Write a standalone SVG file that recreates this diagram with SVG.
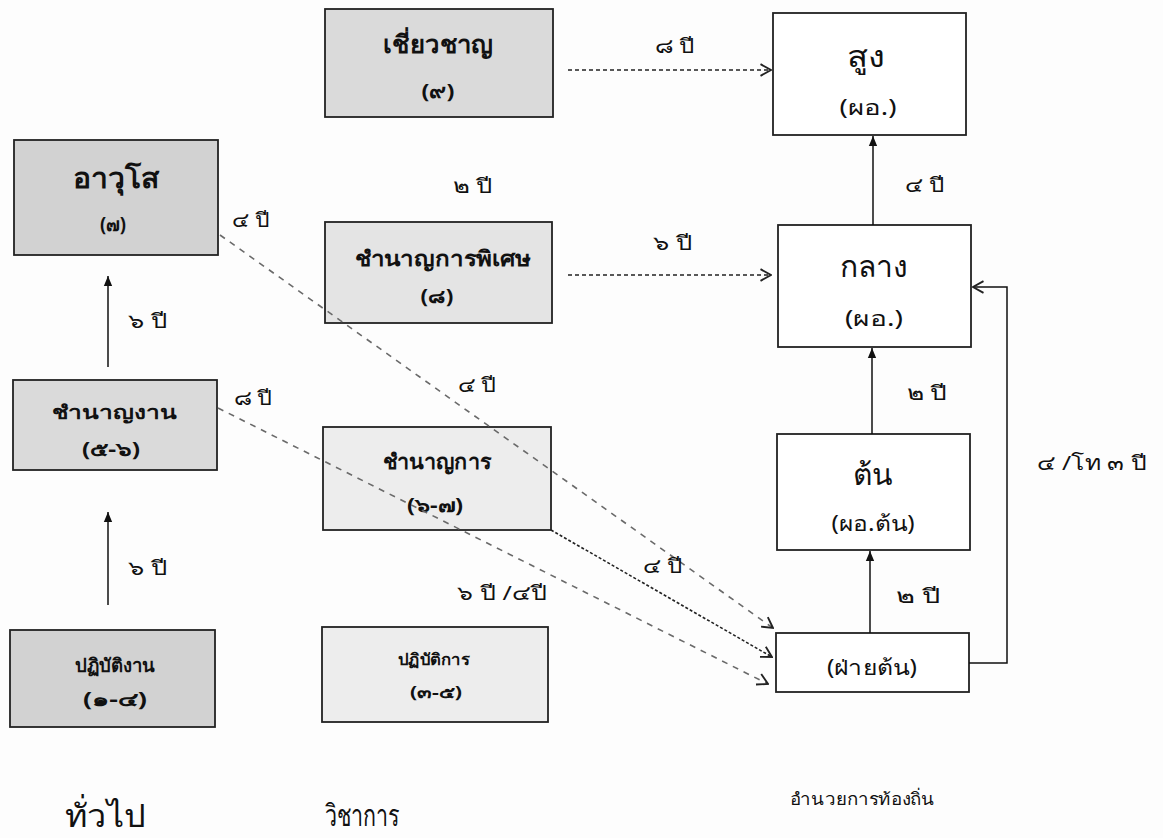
<svg xmlns="http://www.w3.org/2000/svg" width="1163" height="838" viewBox="0 0 1163 838">
<defs>
<style>
.box{stroke:#222;stroke-width:1.8}
.g1{fill:#d2d2d2}.g2{fill:#dadada}.g3{fill:#e4e4e4}.g4{fill:#ededed}.w{fill:#ffffff}
text{font-family:"Noto Sans","DejaVu Sans",sans-serif;fill:#111;text-anchor:middle}
.b{font-weight:bold}
.lbl{font-size:20px}
.solid{stroke:#111;stroke-width:1.5;fill:none}
.hd{stroke:#222;stroke-width:1.4;stroke-dasharray:4 3;fill:none}
.gd{stroke:#6a6a6a;stroke-width:1.6;stroke-dasharray:6 6;fill:none}
.bd{stroke:#222;stroke-width:1.6;stroke-dasharray:3 2;fill:none}
</style>
<marker id="fa" markerUnits="userSpaceOnUse" markerWidth="10" markerHeight="14" refX="12" refY="5" orient="auto" viewBox="0 0 12 10"><path d="M0,0 L12,5 L0,10 z" fill="#111"/></marker>
<marker id="oa" markerUnits="userSpaceOnUse" markerWidth="14" markerHeight="14" refX="11" refY="6" orient="auto" viewBox="0 0 12 12"><path d="M2,1 L11,6 L2,11" fill="none" stroke="#222" stroke-width="1.6"/></marker>
</defs>
<rect width="1163" height="838" fill="#fdfdfd"/>
<g id="n-awuso"><rect class="box g1" x="14" y="140" width="204" height="115"/><text x="116" y="188" font-size="28" class="b" textLength="87" lengthAdjust="spacingAndGlyphs">อาวุโส</text><text x="113" y="231" font-size="19" class="b" textLength="26" lengthAdjust="spacingAndGlyphs">(๗)</text></g>
<g id="n-chamnanngan"><rect class="box g2" x="13" y="380" width="204" height="90"/><text x="114" y="419" font-size="19" class="b" textLength="125" lengthAdjust="spacingAndGlyphs">ชำนาญงาน</text><text x="111" y="456" font-size="19" class="b" textLength="58" lengthAdjust="spacingAndGlyphs">(๕-๖)</text></g>
<g id="n-patibatingan"><rect class="box g1" x="10" y="630" width="205" height="97"/><text x="115" y="672" font-size="19" class="b" textLength="80" lengthAdjust="spacingAndGlyphs">ปฏิบัติงาน</text><text x="115" y="706" font-size="19" class="b" textLength="64" lengthAdjust="spacingAndGlyphs">(๑-๔)</text></g>
<g id="n-chiaochan"><rect class="box g2" x="325" y="9" width="228" height="108"/><text x="438" y="53" font-size="25" class="b" textLength="110" lengthAdjust="spacingAndGlyphs">เชี่ยวชาญ</text><text x="438" y="98" font-size="19" class="b" textLength="33" lengthAdjust="spacingAndGlyphs">(๙)</text></g>
<g id="n-chamnankanphiset"><rect class="box g3" x="325" y="222" width="227" height="101"/><text x="443" y="266" font-size="21" class="b" textLength="177" lengthAdjust="spacingAndGlyphs">ชำนาญการพิเศษ</text><text x="437" y="303" font-size="19" class="b" textLength="33" lengthAdjust="spacingAndGlyphs">(๘)</text></g>
<g id="n-chamnankan"><rect class="box g4" x="323" y="427" width="228" height="103"/><text x="437" y="469" font-size="21" class="b" textLength="109" lengthAdjust="spacingAndGlyphs">ชำนาญการ</text><text x="435" y="512" font-size="19" class="b" textLength="56" lengthAdjust="spacingAndGlyphs">(๖-๗)</text></g>
<g id="n-patibatikan"><rect class="box g4" x="322" y="627" width="226" height="95"/><text x="434" y="665" font-size="16" class="b" textLength="72" lengthAdjust="spacingAndGlyphs">ปฏิบัติการ</text><text x="436" y="698" font-size="16" class="b" textLength="52" lengthAdjust="spacingAndGlyphs">(๓-๕)</text></g>
<g id="n-sung"><rect class="box w" x="773" y="13" width="193" height="122"/><text x="866" y="67" font-size="30" textLength="38" lengthAdjust="spacingAndGlyphs">สูง</text><text x="868" y="115" font-size="21" textLength="57" lengthAdjust="spacingAndGlyphs">(ผอ.)</text></g>
<g id="n-klang"><rect class="box w" x="778" y="225" width="193" height="122"/><text x="874" y="277" font-size="30" textLength="68" lengthAdjust="spacingAndGlyphs">กลาง</text><text x="874" y="326" font-size="21" textLength="58" lengthAdjust="spacingAndGlyphs">(ผอ.)</text></g>
<g id="n-ton"><rect class="box w" x="777" y="434" width="193" height="116"/><text x="873" y="485" font-size="30" textLength="40" lengthAdjust="spacingAndGlyphs">ต้น</text><text x="873" y="531" font-size="21" textLength="83" lengthAdjust="spacingAndGlyphs">(ผอ.ต้น)</text></g>
<g id="n-faiton"><rect class="box w" x="776" y="633" width="193" height="59"/><text x="872" y="675" font-size="21" textLength="90" lengthAdjust="spacingAndGlyphs">(ฝ่ายต้น)</text></g>
<g id="connectors">
<line class="solid" x1="108" y1="367" x2="108" y2="276" marker-end="url(#fa)"/>
<line class="solid" x1="108" y1="605" x2="108" y2="512" marker-end="url(#fa)"/>
<line class="solid" x1="873" y1="225" x2="873" y2="136" marker-end="url(#fa)"/>
<line class="solid" x1="872" y1="434" x2="872" y2="348" marker-end="url(#fa)"/>
<line class="solid" x1="870" y1="633" x2="870" y2="551" marker-end="url(#fa)"/>
<polyline class="solid" points="969,663 1007,663 1007,287 973,287" marker-end="url(#oa)"/>
<line class="hd" x1="568" y1="70" x2="771" y2="70" marker-end="url(#oa)"/>
<line class="hd" x1="568" y1="275" x2="771" y2="275" marker-end="url(#oa)"/>
<line class="gd" x1="220" y1="235" x2="773" y2="628" marker-end="url(#oa)"/>
<line class="gd" x1="218" y1="408" x2="768" y2="684" marker-end="url(#oa)"/>
<line class="bd" x1="551" y1="530" x2="772" y2="657" marker-end="url(#oa)"/>
</g>
<g id="labels">
<text class="lbl" x="148" y="328" textLength="40" lengthAdjust="spacingAndGlyphs">๖ ปี</text>
<text class="lbl" x="148" y="575" textLength="40" lengthAdjust="spacingAndGlyphs">๖ ปี</text>
<text class="lbl" x="251" y="227" textLength="38" lengthAdjust="spacingAndGlyphs">๔ ปี</text>
<text class="lbl" x="253" y="405" textLength="39" lengthAdjust="spacingAndGlyphs">๘ ปี</text>
<text class="lbl" x="473" y="193" textLength="40" lengthAdjust="spacingAndGlyphs">๒ ปี</text>
<text class="lbl" x="477" y="392" textLength="39" lengthAdjust="spacingAndGlyphs">๔ ปี</text>
<text class="lbl" x="502" y="600" textLength="90" lengthAdjust="spacingAndGlyphs">๖ ปี /๔ปี</text>
<text class="lbl" x="663" y="573" textLength="40" lengthAdjust="spacingAndGlyphs">๔ ปี</text>
<text class="lbl" x="675" y="53" textLength="40" lengthAdjust="spacingAndGlyphs">๘ ปี</text>
<text class="lbl" x="673" y="250" textLength="40" lengthAdjust="spacingAndGlyphs">๖ ปี</text>
<text class="lbl" x="925" y="192" textLength="40" lengthAdjust="spacingAndGlyphs">๔ ปี</text>
<text class="lbl" x="927" y="400" textLength="41" lengthAdjust="spacingAndGlyphs">๒ ปี</text>
<text class="lbl" x="918" y="603" textLength="45" lengthAdjust="spacingAndGlyphs">๒ ปี</text>
<text class="lbl" x="1092" y="470" textLength="110" lengthAdjust="spacingAndGlyphs">๔ /โท ๓ ปี</text>
<text x="105" y="827" font-size="32" textLength="80" lengthAdjust="spacingAndGlyphs">ทั่วไป</text>
<text x="362" y="826" font-size="30" textLength="75" lengthAdjust="spacingAndGlyphs">วิชาการ</text>
<text x="862" y="805" font-size="17" textLength="145" lengthAdjust="spacingAndGlyphs">อำนวยการท้องถิ่น</text>
</g>
</svg>
